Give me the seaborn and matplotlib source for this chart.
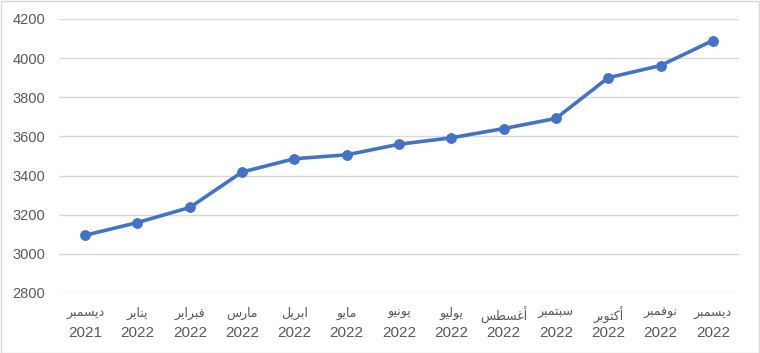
import matplotlib
matplotlib.use("Agg")
import matplotlib.pyplot as plt
import seaborn as sns
import pandas as pd
from matplotlib.patches import Rectangle

months = ["ديسمبر", "يناير", "فبراير", "مارس", "ابريل", "مايو", "يونيو",
          "يوليو", "أغسطس", "سبتمبر", "أكتوبر", "نوفمبر", "ديسمبر"]
years = ["2021"] + ["2022"] * 12
values = [3095, 3160, 3237, 3418, 3486, 3506, 3560, 3593, 3640, 3692, 3900, 3962, 4090]
yticks = [2800, 3000, 3200, 3400, 3600, 3800, 4000, 4200]

# Minimal Arabic shaping (matplotlib does not shape Arabic by itself)
FORMS = {
    "ا": ("\uFE8D", "\uFE8E", None, None),
    "أ": ("\uFE83", "\uFE84", None, None),
    "ب": ("\uFE8F", "\uFE90", "\uFE91", "\uFE92"),
    "ت": ("\uFE95", "\uFE96", "\uFE97", "\uFE98"),
    "د": ("\uFEA9", "\uFEAA", None, None),
    "ر": ("\uFEAD", "\uFEAE", None, None),
    "س": ("\uFEB1", "\uFEB2", "\uFEB3", "\uFEB4"),
    "ط": ("\uFEC1", "\uFEC2", "\uFEC3", "\uFEC4"),
    "غ": ("\uFECD", "\uFECE", "\uFECF", "\uFED0"),
    "ف": ("\uFED1", "\uFED2", "\uFED3", "\uFED4"),
    "ك": ("\uFED9", "\uFEDA", "\uFEDB", "\uFEDC"),
    "ل": ("\uFEDD", "\uFEDE", "\uFEDF", "\uFEE0"),
    "م": ("\uFEE1", "\uFEE2", "\uFEE3", "\uFEE4"),
    "ن": ("\uFEE5", "\uFEE6", "\uFEE7", "\uFEE8"),
    "و": ("\uFEED", "\uFEEE", None, None),
    "ي": ("\uFEF1", "\uFEF2", "\uFEF3", "\uFEF4"),
}


def shape(word):
    out = []
    n = len(word)
    for i, ch in enumerate(word):
        if ch not in FORMS:
            out.append(ch)
            continue
        iso, fin, ini, med = FORMS[ch]
        prev_join = i > 0 and word[i - 1] in FORMS and FORMS[word[i - 1]][2] is not None
        next_join = ini is not None and i + 1 < n and word[i + 1] in FORMS
        if prev_join and next_join:
            out.append(med)
        elif prev_join:
            out.append(fin)
        elif next_join:
            out.append(ini)
        else:
            out.append(iso)
    return "".join(reversed(out))


sns.set_theme(style="white")
plt.rcParams["font.family"] = ["Liberation Sans", "DejaVu Sans"]

df = pd.DataFrame({"idx": list(range(len(values))), "value": values})

fig = plt.figure(figsize=(7.6, 3.53), dpi=100)
ax = fig.add_axes([59 / 760, 1 - 293 / 353, 680 / 760, 274 / 353])

sns.lineplot(data=df, x="idx", y="value", ax=ax, color="#4472C4", linewidth=2.6,
             marker="o", markersize=7, markeredgecolor="#4472C4", zorder=3)

ax.set_ylim(2800, 4200)
ax.set_xlim(-0.5, len(values) - 0.5)
ax.set_yticks(yticks)
ax.set_yticklabels([str(t) for t in yticks])
ax.grid(axis="y", color="#D9D9D9", linewidth=1)
ax.grid(axis="x", visible=False)
for s in ax.spines.values():
    s.set_visible(False)

ax.xaxis.remove_overlapping_locs = False
ax.set_xticks(df["idx"])
ax.set_xticklabels(years)
ax.set_xticks(df["idx"], minor=True)
ax.set_xticklabels([shape(m) for m in months], minor=True)
ax.tick_params(axis="x", which="major", length=0, pad=24, labelsize=11, labelcolor="#595959")
ax.tick_params(axis="x", which="minor", length=0, pad=10, labelsize=9, labelcolor="#595959")
ax.tick_params(axis="y", length=0, pad=10, labelsize=10.5, labelcolor="#595959")
ax.set_xlabel("")
ax.set_ylabel("")

fig.patches.append(Rectangle((0.5 / 760, 0.5 / 353), 1 - 1.5 / 760, 1 - 1.5 / 353,
                             transform=fig.transFigure, fill=False,
                             edgecolor="#D9D9D9", linewidth=1))

fig.savefig("out.png", dpi=100)
